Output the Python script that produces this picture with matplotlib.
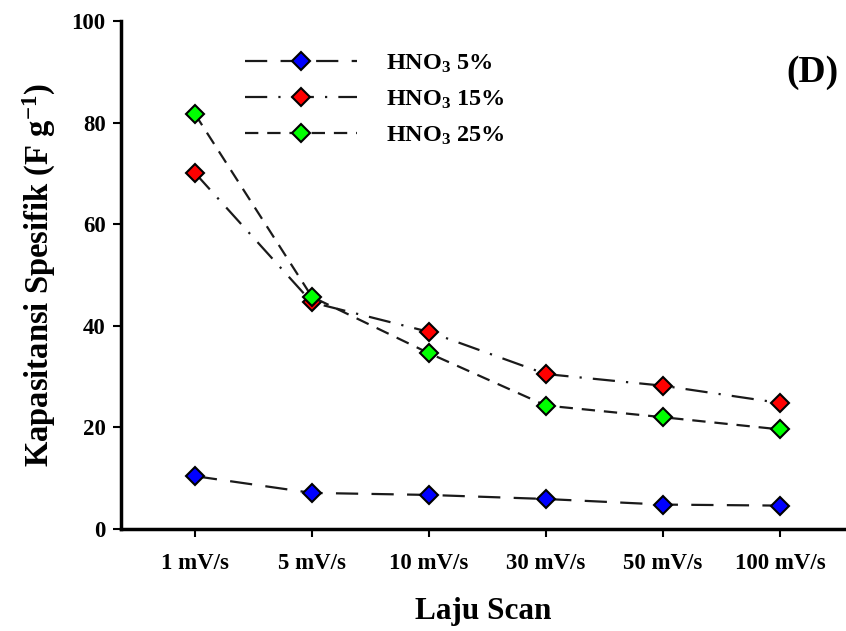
import matplotlib
matplotlib.use("Agg")
import matplotlib.pyplot as plt

plt.rcParams['font.family'] = ['Liberation Serif', 'DejaVu Serif']
plt.rcParams['font.weight'] = 'bold'
plt.rcParams['mathtext.fontset'] = 'custom'
plt.rcParams['mathtext.rm'] = 'Liberation Serif:bold'
plt.rcParams['mathtext.bf'] = 'Liberation Serif:bold'
plt.rcParams['mathtext.it'] = 'Liberation Serif:bold'

categories = ['1 mV/s', '5 mV/s', '10 mV/s', '30 mV/s', '50 mV/s', '100 mV/s']
hno3_5 = [10.4, 7.1, 6.7, 5.9, 4.8, 4.6]
hno3_15 = [70.1, 44.6, 38.8, 30.5, 28.2, 24.8]
hno3_25 = [81.7, 45.7, 34.6, 24.3, 22.0, 19.6]
labels = [r'HNO$_3$ 5%', r'HNO$_3$ 15%', r'HNO$_3$ 25%']

fig = plt.figure(figsize=(8.46, 6.31), dpi=100)
ax = fig.add_axes([0.143, 0.1617, 0.857, 0.805])

x = list(range(len(categories)))
lc = '#1a1a1a'
ax.plot(x, hno3_5, color=lc, lw=1.6, dashes=(10, 6), marker='D', ms=9,
        mfc='#0000ff', mec='black', mew=1.5, label=labels[0])
ax.plot(x, hno3_15, color=lc, lw=1.6, dashes=(10, 5, 1, 5), marker='D', ms=9,
        mfc='#ff0000', mec='black', mew=1.5, label=labels[1])
ax.plot(x, hno3_25, color=lc, lw=1.6, dashes=(6, 4), marker='D', ms=9,
        mfc='#00ff00', mec='black', mew=1.5, label=labels[2])

ax.set_xlim(-0.632, 5.564)
ax.set_ylim(0, 100)
ax.set_yticks([0, 20, 40, 60, 80, 100])
ax.set_xticks(x)
ax.set_xticklabels(categories)
for s in ['top', 'right']:
    ax.spines[s].set_visible(False)
for s in ['left', 'bottom']:
    ax.spines[s].set_linewidth(2.5)
ax.tick_params(axis='both', direction='out', length=6, width=1.5, labelsize=16.5)
ax.tick_params(axis='x', pad=11)
ax.tick_params(axis='y', pad=5)
for t in ax.get_xticklabels() + ax.get_yticklabels():
    t.set_fontweight('bold')

ax.set_xlabel('Laju Scan', fontsize=22.5, fontweight='bold', labelpad=17)
ax.set_ylabel(r'Kapasitansi Spesifik (F g$^{\mathregular{-1}}$)', fontsize=23.5,
              fontweight='bold', labelpad=10)

ax.text(0.989, 0.898, '(D)', transform=ax.transAxes, fontsize=27,
        fontweight='bold', ha='right', va='center')

leg = ax.legend(loc='upper left', bbox_to_anchor=(0.171, 0.938), frameon=False,
                borderpad=0, borderaxespad=0,
                handlelength=4.6, handletextpad=1.2, labelspacing=0.57,
                prop={'family': 'Liberation Serif', 'weight': 'bold', 'size': 17.5})

fig.savefig('out.png', dpi=100)
